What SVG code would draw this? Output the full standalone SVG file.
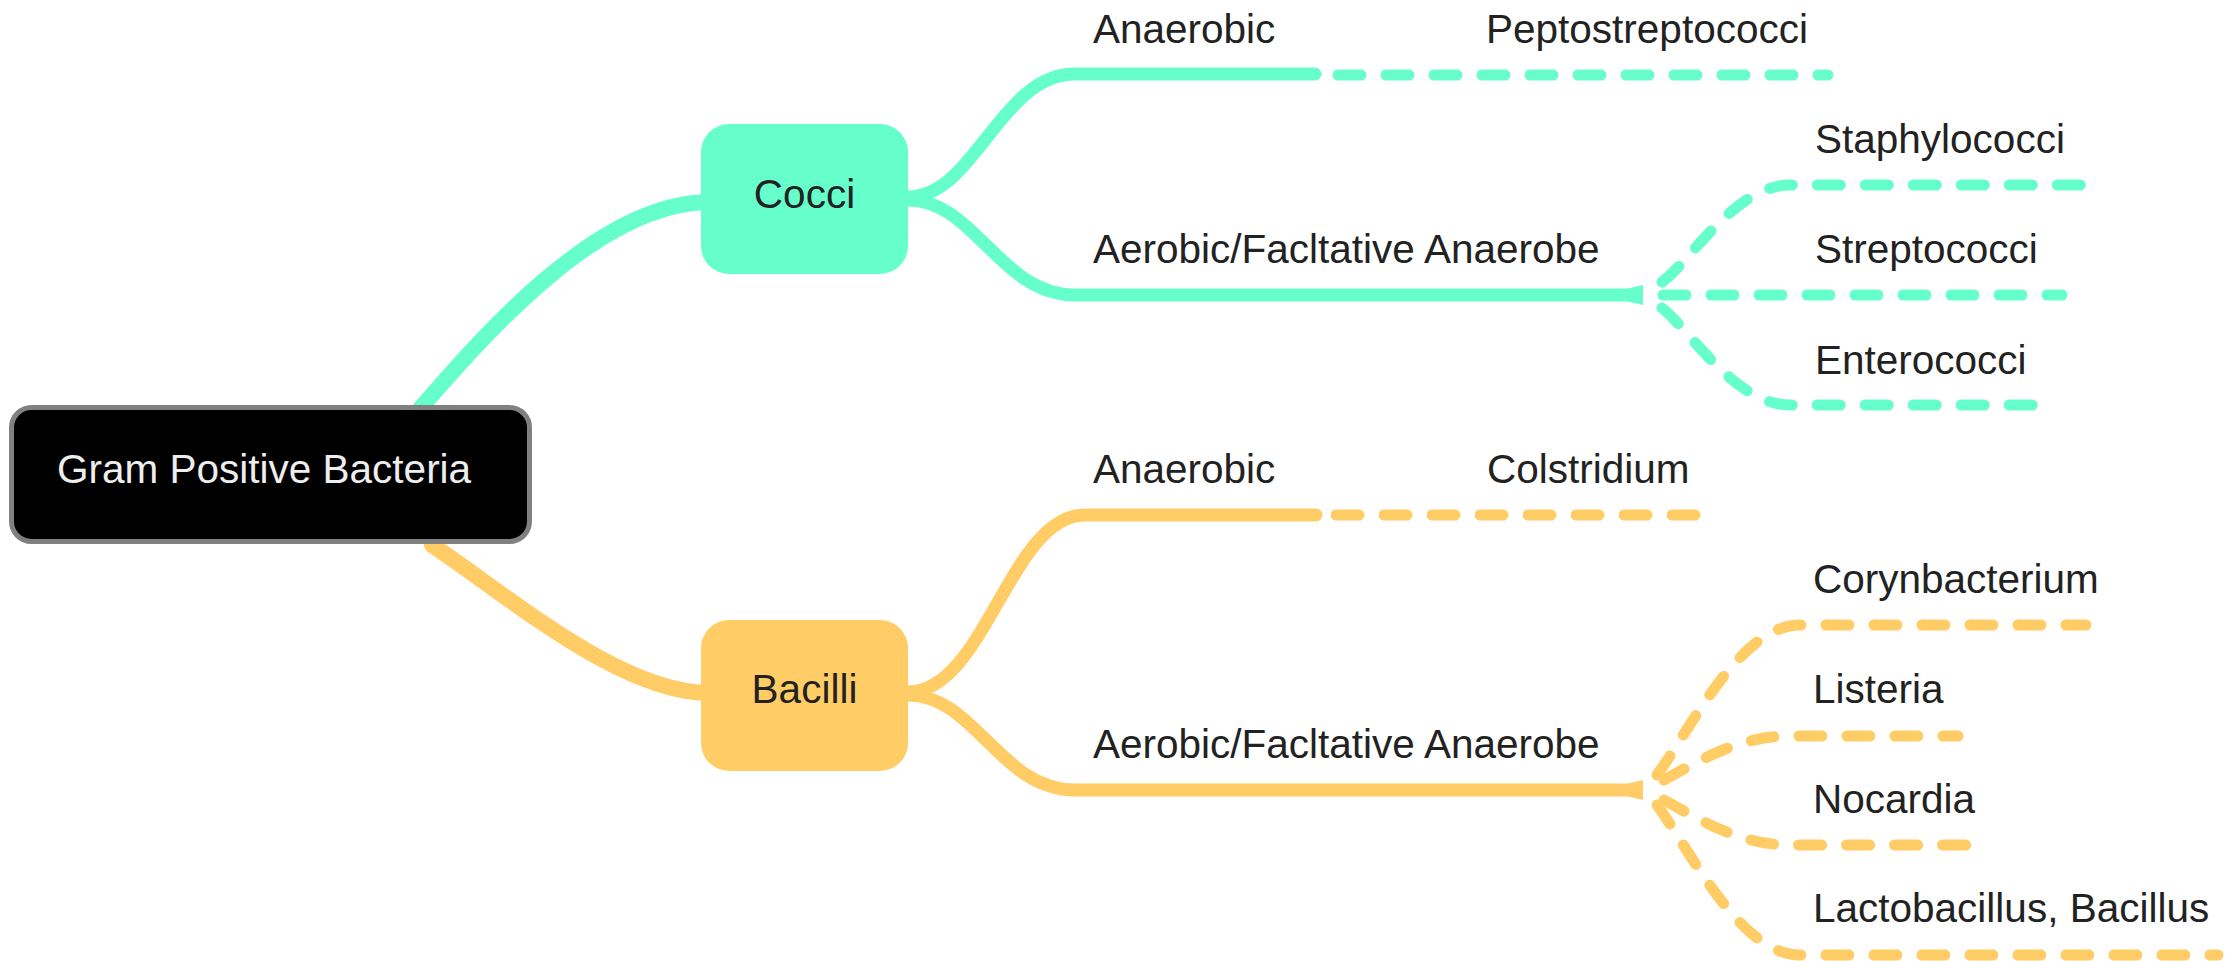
<svg xmlns="http://www.w3.org/2000/svg" width="2238" height="961" viewBox="0 0 2238 961">
<style>
text{font-family:"Liberation Sans",Arial,Helvetica,sans-serif;font-size:40.5px;fill:#222}
.t{fill:none;stroke:#66FFCC;stroke-linecap:round}
.o{fill:none;stroke:#FFCC66;stroke-linecap:round}
.main{stroke-width:16}
.sub{stroke-width:13}
.dash{stroke-width:11;stroke-dasharray:23 25}
.ft{fill:#66FFCC}
.fo{fill:#FFCC66}
</style>
<rect width="2238" height="961" fill="#fff"/>
<g id="connectors">
  <path class="t main" d="M412,418 C488,330 600,202 710,202" stroke-linecap="butt"/>
  <path class="o main" d="M432,545 C510,597 620,693 710,693" stroke-linecap="butt"/>
  <!-- Cocci branches -->
  <path class="t sub" d="M900,197 L908,197 C975,197 1000,74 1075,74 L1315,74" stroke-linecap="butt"/>
  <path class="t sub" d="M900,200 L908,200 C975,200 1000,295 1075,295 L1636,295" stroke-linecap="butt"/>
  <path class="ft" d="M1628,288.5 L1643,285 L1643,305 L1628,301.5 Z"/>
  <path class="t dash" d="M1338,75 L1828,75"/>
  <path class="t dash" d="M1662,282 C1690,262 1735,185 1790,185 L2084,185"/>
  <path class="t dash" d="M1663,295 L2062,295"/>
  <path class="t dash" d="M1662,308 C1690,330 1735,405 1790,405 L2038,405"/>
  <!-- Bacilli branches -->
  <path class="o sub" d="M900,692 L908,692 C985,692 1010,515 1085,515 L1316,515" stroke-linecap="butt"/>
  <path class="o sub" d="M900,695 L908,695 C975,695 1000,790 1075,790 L1636,790" stroke-linecap="butt"/>
  <path class="fo" d="M1628,783.5 L1643,780 L1643,800 L1628,796.5 Z"/>
  <path class="o dash" d="M1336,515 L1696,515"/>
  <path class="o dash" d="M1657,775 C1690,730 1740,625 1800,625 L2086,625"/>
  <path class="o dash" d="M1664,780 C1700,760 1740,736 1790,736 L1958,736"/>
  <path class="o dash" d="M1664,800 C1700,820 1740,845 1790,845 L1986,845"/>
  <path class="o dash" d="M1657,805 C1690,850 1740,955 1800,955 L2218,955"/>
</g>
<g id="root">
  <rect x="11.5" y="407.5" width="518" height="134" rx="20" fill="#000" stroke="#808080" stroke-width="5"/>
  <text x="57" y="483" style="fill:#eeeeee">Gram Positive Bacteria</text>
</g>
<g id="cocci">
  <rect x="701" y="124" width="207" height="150" rx="28" class="ft"/>
  <text x="804.5" y="208" text-anchor="middle">Cocci</text>
</g>
<g id="bacilli">
  <rect x="701" y="620" width="207" height="151" rx="28" class="fo"/>
  <text x="804.5" y="703" text-anchor="middle">Bacilli</text>
</g>
<g id="cocci-anaerobic"><text x="1093" y="43">Anaerobic</text></g>
<g id="peptostreptococci"><text x="1486" y="43">Peptostreptococci</text></g>
<g id="cocci-aerobic"><text x="1093" y="263">Aerobic/Facltative Anaerobe</text></g>
<g id="staphylococci"><text x="1815" y="153">Staphylococci</text></g>
<g id="streptococci"><text x="1815" y="263">Streptococci</text></g>
<g id="enterococci"><text x="1815" y="374">Enterococci</text></g>
<g id="bacilli-anaerobic"><text x="1093" y="483">Anaerobic</text></g>
<g id="colstridium"><text x="1487" y="483">Colstridium</text></g>
<g id="bacilli-aerobic"><text x="1093" y="758">Aerobic/Facltative Anaerobe</text></g>
<g id="corynbacterium"><text x="1813" y="593">Corynbacterium</text></g>
<g id="listeria"><text x="1813" y="703">Listeria</text></g>
<g id="nocardia"><text x="1813" y="813">Nocardia</text></g>
<g id="lactobacillus"><text x="1813" y="922">Lactobacillus, Bacillus</text></g>
</svg>
